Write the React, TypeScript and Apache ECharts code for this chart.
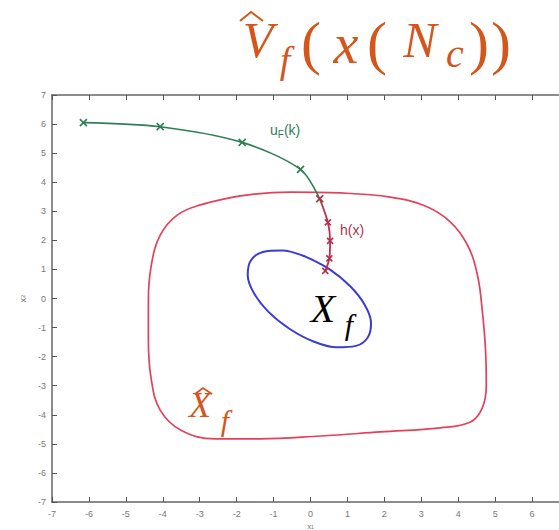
import React, { useEffect, useRef } from "react";
import * as echarts from "echarts";

// Outer terminal region boundary (closed curve, first points repeated to close smoothly)
const outerRegion: [number, number][] = [
  [-2.98, 3.22], [-1.9, 3.53], [-0.55, 3.66], [0.81, 3.63], [2.16, 3.49], [3.11, 3.18],
  [3.79, 2.63], [4.25, 1.84], [4.52, 0.81], [4.65, -0.4], [4.74, -1.77], [4.76, -2.98],
  [4.65, -3.77], [4.33, -4.25], [3.52, -4.45], [1.89, -4.59], [0.27, -4.73], [-1.36, -4.83],
  [-2.58, -4.83], [-3.52, -4.52], [-4.07, -3.84], [-4.31, -2.8], [-4.39, -1.43],
  [-4.39, -0.05], [-4.31, 1.15], [-4.07, 2.18], [-3.61, 2.87], [-2.98, 3.22], [-1.9, 3.53],
];

// Inner terminal set (tilted ellipse around the origin)
const innerSet: [number, number][] = [
  [-0.14, 1.44], [0.5, 1.02], [1.07, 0.43], [1.47, -0.22], [1.64, -0.84], [1.55, -1.34],
  [1.23, -1.63], [0.71, -1.68], [0.08, -1.48], [-0.56, -1.05], [-1.13, -0.47],
  [-1.53, 0.18], [-1.7, 0.8], [-1.62, 1.3], [-1.29, 1.6], [-0.77, 1.65], [-0.14, 1.44],
  [0.5, 1.02],
];

// Trajectory under u_F(k)
const controlPath: [number, number][] = [
  [-6.15, 6.05], [-4.07, 5.91], [-1.85, 5.37], [-0.27, 4.44], [0.25, 3.43],
];

// Trajectory under h(x)
const localPath: [number, number][] = [
  [0.25, 3.43], [0.47, 2.62], [0.53, 1.98], [0.51, 1.38], [0.4, 0.95],
];

const axisRange = [-7, 7];

const crossMark = "path://M0 0L10 10M10 0L0 10";
const TITLE = "#d4561a";
const GREEN = "#2f7f55";
const DARKRED = "#b8304c";
const serif = "'Liberation Serif', 'DejaVu Serif', serif";

export default function App() {
  const ref = useRef<HTMLDivElement>(null);

  useEffect(() => {
    if (!ref.current) return;
    const chart = echarts.init(ref.current, null, { renderer: "svg" });

    const axisCommon = {
      type: "value" as const,
      min: axisRange[0],
      max: axisRange[1],
      interval: 1,
      splitLine: { show: false },
      axisLine: { show: true, onZero: false, lineStyle: { color: "#666", width: 1.5 } },
      axisTick: { show: true, inside: true, length: 5, lineStyle: { color: "#555", width: 1 } },
    };

    const glyph = (
      text: string, x: number, y: number, size: number, color: string, italic = true,
    ) => ({
      type: "text",
      style: {
        text, x, y,
        font: `${italic ? "italic " : ""}${size}px ${serif}`,
        fill: color,
        align: "center",
        verticalAlign: "middle",
      },
    });

    chart.setOption({
      animation: false,
      backgroundColor: "#fff",
      grid: {
        left: 52, top: 95, width: 517, height: 407,
        containLabel: false,
        outerBoundsMode: "none",
      },
      xAxis: [
        {
          ...axisCommon,
          position: "bottom",
          axisLabel: {
            fontSize: 9, color: "#777", margin: 7, fontFamily: "Liberation Sans",
            showMaxLabel: false,
          },
          name: "{a|x}{b|1}",
          nameLocation: "middle",
          nameGap: 15,
          nameTextStyle: {
            rich: {
              a: { fontSize: 8, color: "#777" },
              b: { fontSize: 5, color: "#777" },
            },
          },
        },
        {
          ...axisCommon,
          position: "top",
          axisLabel: { show: false },
        },
      ],
      yAxis: {
        ...axisCommon,
        axisLabel: { fontSize: 9, color: "#777", margin: 6, fontFamily: "Liberation Sans" },
        name: "{a|x}{b|2}",
        nameLocation: "middle",
        nameRotate: 90,
        nameGap: 24,
        nameTextStyle: {
          rich: {
            a: { fontSize: 9, color: "#777" },
            b: { fontSize: 6, color: "#777" },
          },
        },
      },
      series: [
        {
          type: "line",
          data: outerRegion,
          smooth: 0.4,
          showSymbol: false,
          lineStyle: { color: "#e4405a", width: 1.7 },
        },
        {
          type: "line",
          data: innerSet,
          smooth: 0.35,
          showSymbol: false,
          lineStyle: { color: "#3c3cd2", width: 2 },
        },
        {
          type: "line",
          data: controlPath,
          smooth: 0.3,
          symbol: crossMark,
          symbolSize: 7,
          lineStyle: { color: GREEN, width: 1.6 },
          itemStyle: { color: "none", borderColor: GREEN, borderWidth: 1.6 },
        },
        {
          type: "line",
          data: localPath,
          smooth: 0.3,
          symbol: crossMark,
          symbolSize: 6,
          lineStyle: { color: DARKRED, width: 1.8 },
          itemStyle: { color: "none", borderColor: DARKRED, borderWidth: 1.6 },
        },
      ],
      graphic: [
        // title: widehat V_f(x(N_c))
        {
          type: "polyline",
          shape: { points: [[240, 21], [251, 12], [263, 21]] },
          style: { stroke: TITLE, lineWidth: 2, fill: "none" },
        },
        glyph("V", 258, 40, 50, TITLE),
        glyph("f", 285, 60, 38, TITLE),
        glyph("(", 311, 43, 60, TITLE, false),
        glyph("x", 346, 44, 56, TITLE),
        glyph("(", 377, 43, 60, TITLE, false),
        glyph("N", 420, 40, 50, TITLE),
        glyph("c", 455, 53, 40, TITLE),
        glyph(")", 479, 43, 60, TITLE, false),
        glyph(")", 501, 43, 60, TITLE, false),
        // inner set label
        glyph("X", 323, 308, 40, "#000"),
        glyph("f", 349, 324, 30, "#000"),
        // outer region label
        {
          type: "polyline",
          shape: { points: [[195, 394], [203, 388], [212, 394]] },
          style: { stroke: TITLE, lineWidth: 1.8, fill: "none" },
        },
        glyph("X", 200, 405, 36, TITLE),
        glyph("f", 225, 420, 30, TITLE),
        // trajectory labels
        {
          type: "text",
          style: {
            x: 270, y: 130,
            text: "{a|u}{b|F}{a|(k)}",
            verticalAlign: "middle",
            rich: {
              a: { fontSize: 14, fontFamily: "Liberation Sans", fill: GREEN },
              b: { fontSize: 10, fontFamily: "Liberation Sans", fill: GREEN, padding: [8, 0, 0, 0] },
            },
          },
        },
        {
          type: "text",
          style: {
            x: 340, y: 230,
            text: "h(x)",
            font: "14px 'Liberation Sans'",
            fill: DARKRED,
            verticalAlign: "middle",
          },
        },
      ],
    });

    return () => chart.dispose();
  }, []);

  return (
    <div
      ref={ref}
      style={{ position: "absolute", left: 0, top: 0, width: 559, height: 530 }}
    />
  );
}
